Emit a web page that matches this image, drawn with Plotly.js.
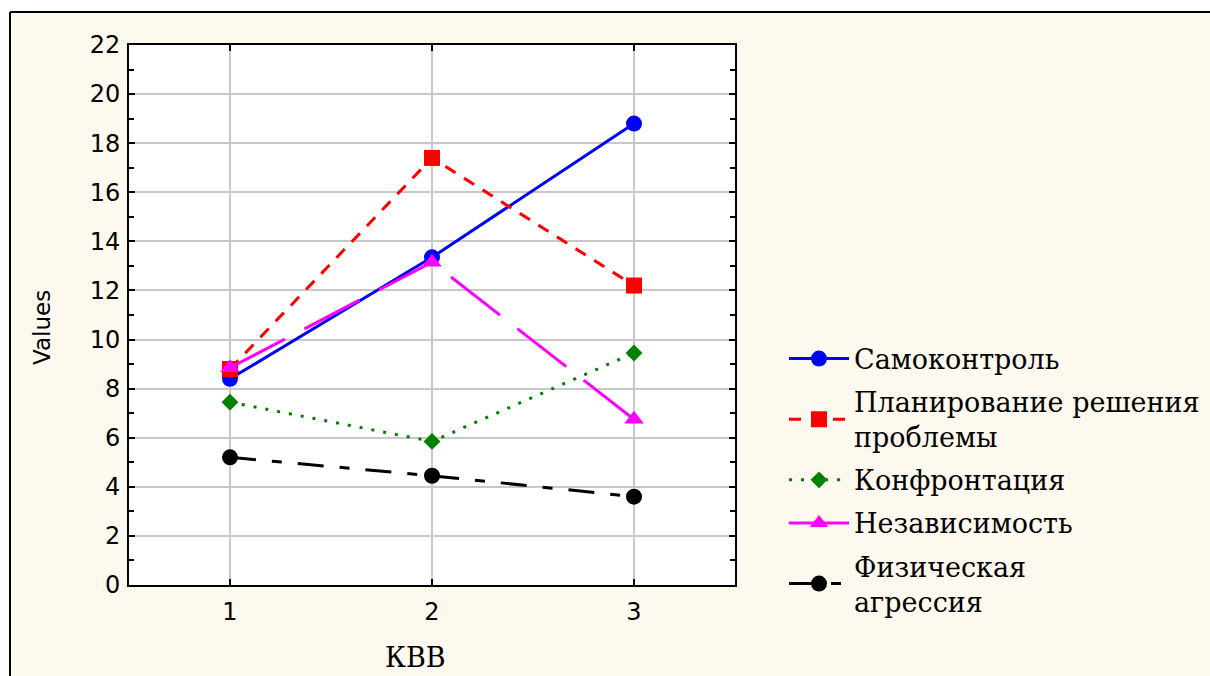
<!DOCTYPE html>
<html>
<head>
<meta charset="utf-8">
<script src="https://cdn.plot.ly/plotly-3.0.1.min.js"></script>
<style>html,body{margin:0;padding:0;background:#fff;}#chart{width:1210px;height:676px;}</style>
</head>
<body>
<div id="chart"></div>
<script>
const categories = [1, 2, 3];
const seriesNames = ["Самоконтроль", "Планирование решения<br>проблемы", "Конфронтация", "Независимость", "Физическая<br>агрессия"];
const samokontrol = [8.4, 13.35, 18.8];
const planirovanie = [8.8, 17.4, 12.2];
const konfrontacia = [7.45, 5.85, 9.45];
const nezavisimost = [8.85, 13.15, 6.75];
const agressia = [5.2, 4.45, 3.6];
const yTickVals = [0, 2, 4, 6, 8, 10, 12, 14, 16, 18, 20, 22];
const xTitle = "КВВ";
const yTitle = "Values";

const styles = [
  {color: "#0000ff", dash: "solid", symbol: "circle", size: 16},
  {color: "#ff0000", dash: "12px,10px", symbol: "square", size: 16},
  {color: "#008000", dash: "3px,9px", symbol: "diamond", size: 13},
  {color: "#ff00ff", dash: "62px,22px", symbol: "triangle-up", size: 17},
  {color: "#000000", dash: "26px,16px,10px,16px", symbol: "circle", size: 16}
];
const values = [samokontrol, planirovanie, konfrontacia, nezavisimost, agressia];

const traces = values.map((v, i) => ({
  x: categories, y: v, name: seriesNames[i], type: "scatter", mode: "lines+markers",
  legendgroup: "g" + i,
  line: {color: styles[i].color, width: 3, dash: styles[i].dash},
  marker: {color: styles[i].color, symbol: styles[i].symbol, size: styles[i].size}
}));

const serif = "DejaVu Serif, Times New Roman, serif";
const sans = "DejaVu Sans, Arial, sans-serif";

const layout = {
  width: 1210, height: 676,
  paper_bgcolor: "#fef9ee", plot_bgcolor: "#ffffff",
  margin: {l: 129, r: 475, t: 45, b: 91, autoexpand: false},
  showlegend: true,
  legend: {
    x: (784 - 129) / 606, xanchor: "left", y: (585 - 480) / 540, yanchor: "middle",
    font: {family: serif, size: 27, color: "#000"},
    bgcolor: "rgba(0,0,0,0)", itemwidth: 60, tracegroupgap: 5
  },
  xaxis: {
    range: [0.5, 3.5], tickvals: categories, ticktext: categories.map(String),
    showgrid: true, gridcolor: "#c8c8c8", gridwidth: 2,
    showline: true, linecolor: "#000", linewidth: 2, mirror: "ticks",
    ticks: "inside", ticklen: 6, tickcolor: "#000", tickwidth: 2,
    zeroline: false, ticklabelstandoff: 4,
    tickfont: {family: sans, size: 24, color: "#000"}
  },
  yaxis: {
    range: [0, 22], tickvals: yTickVals,
    showgrid: true, gridcolor: "#c8c8c8", gridwidth: 2,
    showline: true, linecolor: "#000", linewidth: 2, mirror: "ticks",
    ticks: "inside", ticklen: 6, tickcolor: "#000", tickwidth: 2,
    zeroline: false, ticklabelstandoff: 2,
    minor: {dtick: 1, ticks: "inside", ticklen: 5, tickcolor: "#000", tickwidth: 2, showgrid: false},
    tickfont: {family: sans, size: 24, color: "#000"}
  },
  annotations: [
    {text: xTitle, xref: "paper", yref: "paper", x: (415 - 129) / 606, y: (585 - 657) / 540,
     xanchor: "center", yanchor: "middle", showarrow: false, font: {family: serif, size: 27, color: "#000"}},
    {text: yTitle, xref: "paper", yref: "paper", x: (42 - 129) / 606, y: (585 - 328) / 540, textangle: -90,
     xanchor: "center", yanchor: "middle", showarrow: false, font: {family: sans, size: 23, color: "#000"}}
  ],
  shapes: [
    {type: "rect", xref: "paper", yref: "paper", x0: -0.3, x1: 2.0, y0: (585-12)/540, y1: 1.2, fillcolor: "#ffffff", line: {width: 0}, layer: "below"},
    {type: "rect", xref: "paper", yref: "paper", x0: -0.3, x1: (10-129)/606, y0: -0.3, y1: 1.2, fillcolor: "#ffffff", line: {width: 0}, layer: "below"},
    {type: "line", xref: "paper", yref: "paper", x0: (10-129)/606, x1: 2.0, y0: (585-12)/540, y1: (585-12)/540, line: {color: "#000", width: 2}},
    {type: "line", xref: "paper", yref: "paper", x0: (10-129)/606, x1: (10-129)/606, y0: -0.3, y1: (585-12)/540, line: {color: "#000", width: 2}}
  ]
};

Plotly.newPlot("chart", traces, layout, {displayModeBar: false, staticPlot: true});
</script>
</body>
</html>
